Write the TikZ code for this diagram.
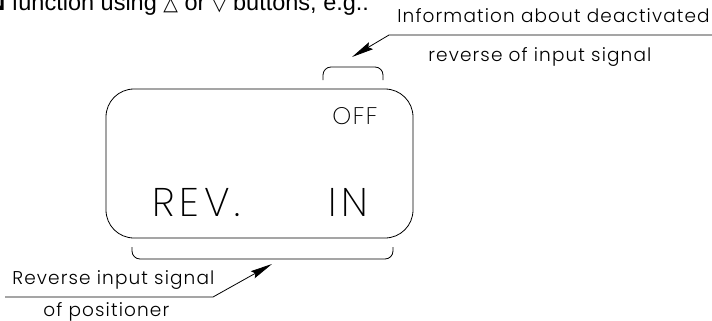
\documentclass[tikz,border=0pt]{standalone}
\usepackage{fontspec}
\setmainfont{Liberation Sans}
\newfontfamily\symfont{DejaVu Sans}
\newfontfamily\cadfont{Poppins Light}
\newfontfamily\lcdfont{Poppins ExtraLight}
\usetikzlibrary{arrows.meta}

\begin{document}
\begin{tikzpicture}[x=1pt, y=-1pt, line width=0.8pt,
    label/.style={inner sep=0pt, anchor=base west, font=\cadfont\fontsize{18.5}{20}\selectfont\addfontfeature{LetterSpace=6}},
    lcd/.style={inner sep=0pt, anchor=base west, font=\lcdfont\fontsize{40}{44}\selectfont\addfontfeature{LetterSpace=12}},
    leader/.style={-{Stealth[length=22pt, width=8pt, inset=3pt]}}]
  \useasboundingbox (0,0) rectangle (712,321);
  % cut-off line of the text above
  \node[inner sep=0pt, anchor=base west, font=\fontsize{23.5}{25}\selectfont] (intro) at (-12,11)
    {\textbf{N} function using {\symfont\fontsize{19}{20}\selectfont △} or {\symfont\fontsize{19}{20}\selectfont ▽} buttons, e.g.:};
  % display
  \node[draw, rounded corners=28pt, minimum width=307pt, minimum height=149pt, inner sep=0pt] (lcdbox) at (259.5,163.5) {};
  \node[inner sep=0pt, anchor=base west, font=\lcdfont\fontsize{24}{26}\selectfont\addfontfeature{LetterSpace=6}] (off) at (332,124) {OFF};
  \node[lcd] (rev) at (152,216) {REV.};
  \node[lcd] (in) at (328,216) {IN};
  % braces
  \draw[rounded corners=8pt] (323,80) -- (323,67) -- (383,67) -- (383,80);
  \draw[rounded corners=8pt] (132,247) -- (132,259) -- (393,259) -- (393,247);
  \coordinate (toptip) at (352,57);
  \coordinate (bottip) at (272,264);
  % upper label
  \node[label] (info1) at (397,23) {Information about deactivated};
  \node[label] (info2) at (428,62) {reverse of input signal};
  \coordinate (topend) at (712,35);
  \coordinate (topknee) at (389,35);
  \draw[leader] (topend) -- (topknee) -- (toptip);
  % lower label
  \node[label] (rev1) at (12,284) {Reverse input signal};
  \node[label] (rev2) at (43,316) {of positioner};
  \coordinate (botend) at (5,297);
  \coordinate (botknee) at (213,297);
  \draw[leader] (botend) -- (botknee) -- (bottip);
\end{tikzpicture}
\end{document}
